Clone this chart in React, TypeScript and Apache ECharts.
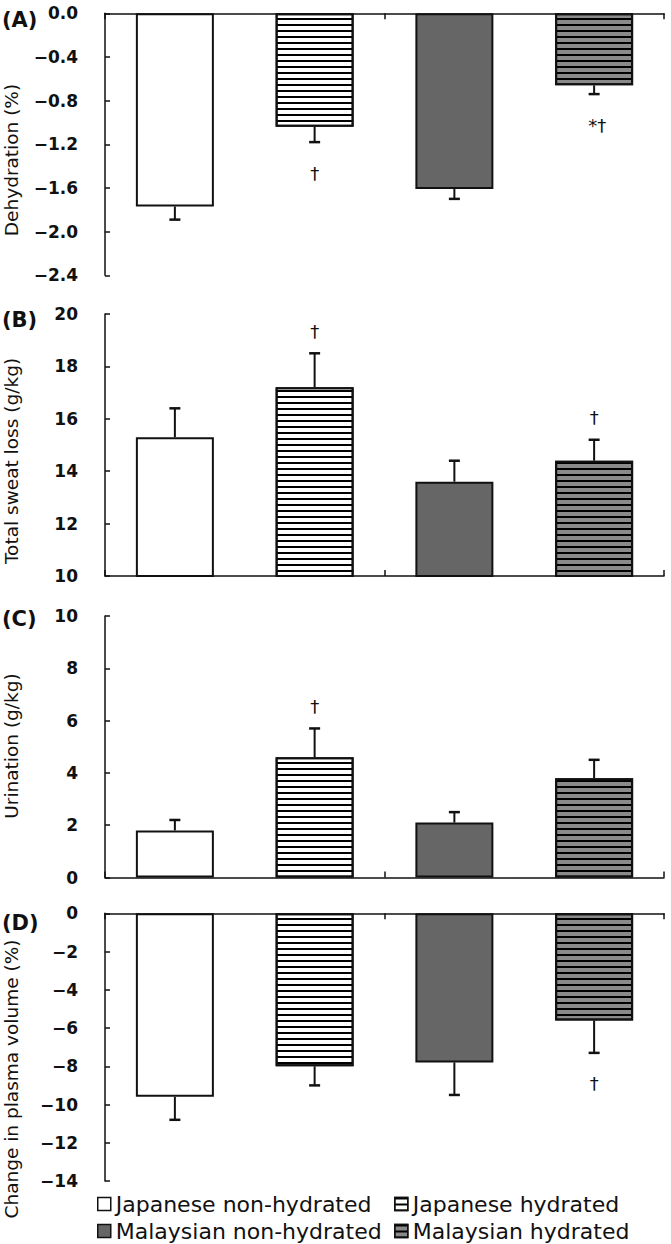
import React, { useEffect, useRef } from 'react';
import * as echarts from 'echarts';

// ---- data ----
const groups = ['Japanese non-hydrated', 'Japanese hydrated', 'Malaysian non-hydrated', 'Malaysian hydrated'];

const dehydration = [-1.77, -1.04, -1.61, -0.66];
const dehydrationErr = [0.12, 0.14, 0.09, 0.08];
const dehydrationSig = ['', '†', '', '*†'];

const sweatLoss = [15.3, 17.2, 13.6, 14.4];
const sweatLossErr = [1.1, 1.3, 0.8, 0.8];
const sweatLossSig = ['', '†', '', '†'];

const urination = [1.8, 4.6, 2.1, 3.8];
const urinationErr = [0.4, 1.1, 0.4, 0.7];
const urinationSig = ['', '†', '', ''];

const plasmaVolume = [-9.6, -8.0, -7.8, -5.6];
const plasmaVolumeErr = [1.2, 1.0, 1.7, 1.7];
const plasmaVolumeSig = ['', '', '', '†'];

const panelLetters = ['(A)', '(B)', '(C)', '(D)'];
const axisTitles = ['Dehydration (%)', 'Total sweat loss (g/kg)', 'Urination (g/kg)', 'Change in plasma volume (%)'];
const axisMin = [-2.4, 10, 0, -14];
const axisMax = [0, 20, 10, 0];
const axisInterval = [0.4, 2, 2, 2];
const axisDecimals = [1, 0, 0, 0];

const panelValues = [dehydration, sweatLoss, urination, plasmaVolume];
const panelErrors = [dehydrationErr, sweatLossErr, urinationErr, plasmaVolumeErr];
const panelSig = [dehydrationSig, sweatLossSig, urinationSig, plasmaVolumeSig];

// ---- layout / style ----
const GRID_LEFT = 105;
const GRID_WIDTH = 559;
const gridTops = [13.3, 314, 616, 913.3];
const gridHeights = [262, 262, 261.5, 267.7];
const letterY = [19.5, 320, 619, 923];
const titleY = [160, 461, 746, 1079];

const stripe = {
  symbol: 'rect',
  symbolSize: 1,
  symbolKeepAspect: false,
  dashArrayX: [20, 0],
  dashArrayY: [2, 4],
  rotation: 0,
  color: '#000',
};

const groupStyles: any[] = [
  { color: '#ffffff' },
  { color: '#ffffff', decal: stripe },
  { color: '#666666' },
  { color: '#8a8a8a', decal: stripe },
];

const FONT = 'DejaVu Sans';

function fmtTick(v: number, dec: number) {
  const s = Math.abs(v).toFixed(dec);
  return v < -1e-9 ? '\u2212' + s : s;
}

function buildOption() {
  const grid: any[] = [];
  const xAxis: any[] = [];
  const yAxis: any[] = [];
  const series: any[] = [];

  panelValues.forEach((vals, p) => {
    const negative = axisMax[p] <= 0;
    grid.push({ left: GRID_LEFT, width: GRID_WIDTH, top: gridTops[p], height: gridHeights[p] });
    xAxis.push({
      type: 'category',
      gridIndex: p,
      data: groups,
      position: negative ? 'top' : 'bottom',
      axisLine: { show: true, onZero: false, lineStyle: { color: '#111', width: 1.5 } },
      axisTick: { show: true, inside: true, length: 6, lineStyle: { color: '#111', width: 1.5 } },
      axisLabel: { show: false },
      splitLine: { show: false },
    });
    yAxis.push({
      type: 'value',
      gridIndex: p,
      min: axisMin[p],
      max: axisMax[p],
      interval: axisInterval[p],
      axisLine: { show: true, onZero: false, lineStyle: { color: '#111', width: 1.5 } },
      axisTick: { show: true, inside: true, length: 5, lineStyle: { color: '#111', width: 1.5 } },
      axisLabel: {
        margin: 27,
        fontFamily: FONT,
        fontWeight: 'bold',
        fontSize: 17,
        color: '#111',
        formatter: (v: number) => fmtTick(v, axisDecimals[p]),
      },
      splitLine: { show: false },
    });

    groups.forEach((name, g) => {
      series.push({
        type: 'bar',
        name,
        xAxisIndex: p,
        yAxisIndex: p,
        barWidth: 78,
        barGap: '-100%',
        clip: true,
        data: vals.map((v, i) => (i === g ? v : '-')),
        itemStyle: { ...groupStyles[g], borderColor: '#111', borderWidth: 2 },
        emphasis: { disabled: true },
      });
    });

    const errs = panelErrors[p];
    const sig = panelSig[p];
    series.push({
      type: 'custom',
      xAxisIndex: p,
      yAxisIndex: p,
      z: 5,
      data: vals.map((v, i) => [i, v, errs[i]]),
      encode: { x: 0, y: 1 },
      renderItem: (params: any, api: any) => {
        const x = api.value(0);
        const v = api.value(1);
        const e = api.value(2);
        const end = v < 0 ? v - e : v + e;
        const p0 = api.coord([x, v]);
        const p1 = api.coord([x, end]);
        const children: any[] = [
          { type: 'line', shape: { x1: p0[0], y1: p0[1], x2: p1[0], y2: p1[1] }, style: { stroke: '#111', lineWidth: 2 } },
          { type: 'line', shape: { x1: p1[0] - 5.5, y1: p1[1], x2: p1[0] + 5.5, y2: p1[1] }, style: { stroke: '#111', lineWidth: 2.5 } },
        ];
        const mark = sig[params.dataIndex];
        if (mark) {
          children.push({
            type: 'text',
            x: p1[0] + (mark.length > 1 ? 3 : 0),
            y: v < 0 ? p1[1] + 31 : p1[1] - 22,
            style: {
              text: mark,
              fill: '#111',
              fontSize: 18,
              fontFamily: FONT,
              align: 'center',
              verticalAlign: 'middle',
              textAlign: 'center',
              textVerticalAlign: 'middle',
            },
          });
        }
        return { type: 'group', children };
      },
    });
  });

  const legend = groups.map((name, g) => ({
    data: [name],
    left: g % 2 === 0 ? 97 : 394,
    top: g < 2 ? 1192 : 1219,
    orient: 'horizontal',
    icon: 'rect',
    itemWidth: 13,
    itemHeight: 13,
    padding: 0,
    selectedMode: false,
    itemStyle: { borderColor: '#111', borderWidth: 1.5 },
    textStyle: { fontFamily: FONT, fontSize: 22, color: '#111', lineHeight: 24 },
  }));

  const graphic: any[] = [];
  panelLetters.forEach((t, p) => {
    graphic.push({
      type: 'text',
      x: 2,
      y: letterY[p],
      style: {
        text: t,
        fill: '#111',
        fontSize: 21,
        fontWeight: 'bold',
        fontFamily: FONT,
        align: 'left',
        verticalAlign: 'middle',
        textAlign: 'left',
        textVerticalAlign: 'middle',
      },
    });
    graphic.push({
      type: 'text',
      x: 11,
      y: titleY[p],
      rotation: Math.PI / 2,
      style: {
        text: axisTitles[p],
        fill: '#111',
        fontSize: 18.5,
        fontFamily: FONT,
        align: 'center',
        verticalAlign: 'middle',
        textAlign: 'center',
        textVerticalAlign: 'middle',
      },
    });
  });

  return {
    animation: false,
    backgroundColor: '#ffffff',
    grid,
    xAxis,
    yAxis,
    series,
    legend,
    graphic,
  };
}

export default function App() {
  const ref = useRef<HTMLDivElement>(null);
  useEffect(() => {
    if (!ref.current) return;
    const chart = echarts.init(ref.current, null, { renderer: 'svg' });
    chart.setOption(buildOption() as any);
    return () => chart.dispose();
  }, []);
  return (
    <div
      ref={ref}
      style={{ position: 'absolute', left: 0, top: 0, width: 671, height: 1244, background: '#fff' }}
    />
  );
}
